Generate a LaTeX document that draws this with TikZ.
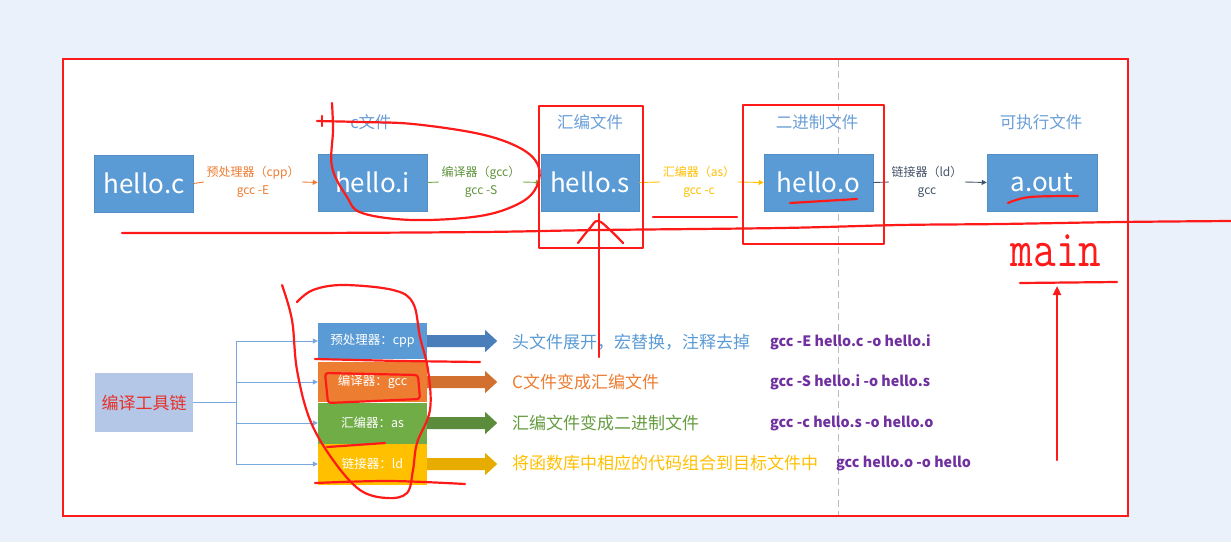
\documentclass[tikz,border=0pt]{standalone}
\usepackage{fontspec}
\setmainfont{Noto Sans CJK SC}
\usetikzlibrary{arrows.meta}
\definecolor{bgblue}{HTML}{EBF1FA}
\definecolor{boxblue}{HTML}{5B9BD5}
\definecolor{lblblue}{HTML}{6A9FD8}
\definecolor{corange}{HTML}{ED7D31}
\definecolor{cgreen}{HTML}{70AD47}
\definecolor{cgold}{HTML}{FFC000}
\definecolor{cslate}{HTML}{44546A}
\definecolor{cpurple}{HTML}{7030A0}
\definecolor{annred}{HTML}{FF1A1A}
\definecolor{tcbox}{HTML}{B4C7E7}
\definecolor{tcred}{HTML}{E8302A}
\definecolor{connblue}{HTML}{7AA7DC}
\definecolor{ablue}{HTML}{4A7EBB}
\definecolor{aorange}{HTML}{D2702F}
\definecolor{agreen}{HTML}{5A8C3C}
\definecolor{agold}{HTML}{E6AC00}
\definecolor{dashgray}{HTML}{BDBDBD}
\begin{document}
\begin{tikzpicture}[x=1pt,y=-1pt,
  filebox/.style={fill=boxblue, draw=boxblue!92!black, line width=0.5pt, text=white,
    font=\fontsize{26}{30}\selectfont, minimum height=57pt, inner sep=0pt},
  toplabel/.style={text=lblblue, font=\fontsize{16.5}{20}\selectfont, inner sep=0pt},
  elabel/.style={align=center, font=\fontsize{12}{18}\selectfont, inner sep=2.5pt},
  tool/.style={text=white, font=\fontsize{12.5}{15}\selectfont, minimum width=109pt, inner sep=0pt},
  desc/.style={anchor=west, font=\fontsize{17}{20}\selectfont, inner sep=0pt},
  cmd/.style={anchor=west, text=cpurple, font=\fontsize{14.3}{18}\bfseries\selectfont, inner sep=0pt},
  conn/.style={draw=connblue, line width=0.8pt},
  tip/.style={-{Triangle[length=5pt,width=5pt]}},
  redline/.style={draw=annred, line width=2.2pt, line cap=round, line join=round}
]
\useasboundingbox (0,0) rectangle (1231,542);
\fill[bgblue] (0,0) rectangle (1231,542);
% frame
\filldraw[fill=white, draw=annred, line width=2pt] (63,59) rectangle (1128,516);
\draw[dashgray, line width=1pt, dash pattern=on 7pt off 4pt] (838,60) -- (838,515);

% top row
\node[filebox, minimum width=99pt] (c) at (144,183.5) {hello.c};
\node[filebox, minimum width=109pt] (i) at (372.5,182.5) {hello.i};
\node[filebox, minimum width=98pt] (s) at (590,182.5) {hello.s};
\node[filebox, minimum width=109pt] (o) at (818.5,182.5) {hello.o};
\node[filebox, minimum width=110pt] (out) at (1042,182.5) {a.out};

\node[toplabel] (ti) at (371,122) {c文件};
\node[toplabel] (ts) at (590,122) {汇编文件};
\node[toplabel] (to) at (817,122) {二进制文件};
\node[toplabel] (tout) at (1041,122) {可执行文件};

\node[elabel, text=corange] (l1) at (253,182) {预处理器（cpp）\\gcc -E};
\node[elabel, text=cgreen!85!black] (l2) at (481,182) {编译器（gcc）\\gcc -S};
\node[elabel, text=cgold] (l3) at (699,182) {汇编器（as）\\gcc -c};
\node[elabel, text=cslate] (l4) at (927,182) {链接器（ld）\\gcc};

\draw[corange, line width=0.9pt] (c.east) -- (l1.west);
\draw[corange, line width=0.9pt, tip] (l1.east) -- (i.west);
\draw[cgreen, line width=0.9pt] (i.east) -- (l2.west);
\draw[cgreen, line width=0.9pt, tip] (l2.east) -- (s.west);
\draw[cgold, line width=0.9pt] (s.east) -- (l3.west);
\draw[cgold, line width=0.9pt, tip] (l3.east) -- (o.west);
\draw[cslate, line width=0.9pt] (o.east) -- (l4.west);
\draw[cslate, line width=0.9pt, tip] (l4.east) -- (out.west);

% bottom: tool chain
\node[fill=tcbox, minimum width=98pt, minimum height=59pt, inner sep=0pt, text=tcred,
  font=\fontsize{17}{20}\selectfont] (tc) at (144,402.5) {编译工具链};
\node[tool, fill=boxblue, minimum height=36pt] (p) at (372.5,341) {预处理器：cpp};
\node[tool, fill=corange, minimum height=40pt] (g) at (372.5,382) {编译器：gcc};
\node[tool, fill=cgreen, minimum height=41pt] (a) at (372.5,423) {汇编器：as};
\node[tool, fill=cgold, minimum height=41pt] (l) at (372.5,464) {链接器：ld};

\coordinate (jn) at (236,402.5);
\draw[conn] (tc.east) -- (jn);
\draw[conn] (236,341) -- (236,464);
\draw[conn, tip] (jn |- p.west) -- (p.west);
\draw[conn, tip] (jn |- g.west) -- (g.west);
\draw[conn, tip] (jn |- a.west) -- (a.west);
\draw[conn, tip] (jn |- l.west) -- (l.west);

\foreach \n/\col in {p/ablue, g/aorange, a/agreen, l/agold}{
  \fill[\col] ([yshift=6pt]\n.east) -- ++(58,0) -- ++(0,-5) -- ++(12,11) -- ++(-12,11) -- ++(0,-5) -- ++(-58,0) -- cycle;
}

\node[desc, text=boxblue] (d1) at (512,342) {头文件展开，宏替换，注释去掉};
\node[desc, text=corange] (d2) at (512,382) {C文件变成汇编文件};
\node[desc, text=cgreen!90!black] (d3) at (512,423) {汇编文件变成二进制文件};
\node[desc, text=cgold] (d4) at (512,463) {将函数库中相应的代码组合到目标文件中};

\node[cmd] (m1) at (770,342) {gcc -E hello.c -o hello.i};
\node[cmd] (m2) at (770,382) {gcc -S hello.i -o hello.s};
\node[cmd] (m3) at (770,423) {gcc -c hello.s -o hello.o};
\node[cmd] (m4) at (836,463) {gcc hello.o -o hello};

% red annotations
\draw[redline] (539,106) rectangle (643,248);
\draw[redline] (743,105) rectangle (884,244);
\draw[redline] plot[smooth, tension=0.6] coordinates {(122,233) (300,233) (480,232) (600,230) (780,228) (900,225) (1000,224) (1120,222) (1231,221)};
\draw[redline] plot[smooth, tension=0.6] coordinates {(317,121) (360,122) (413,124) (480,134) (520,148) (538,165) (537,186) (520,203) (480,216) (413,220) (362,213) (347,197) (332,167) (333,130) (332,103)};
\draw[redline] (322,116) -- (322,126);
\draw[redline] (599,357) -- (599,214);
\draw[redline] plot[smooth, tension=0.7] coordinates {(578,243) (590,228) (598,221) (610,230) (623,243)};
\draw[redline] (653,217) -- (737,217);
\draw[redline] (790,203) -- (857,199);
\draw[redline] plot[smooth, tension=0.6] coordinates {(1008,203) (1030,197) (1078,196)};
\node[text=annred, inner sep=0pt, font=\fontsize{44}{46}\ttfamily] (mn) at (1056,251) {\scalebox{1}[1.2]{main}};
\draw[redline] (1020,283) -- (1117,282);
\coordinate (ua) at (1057,460);
\coordinate (ub) at (1057,286);
\draw[redline, -{Triangle[length=9pt,width=8pt]}] (ua) -- (ub);

\draw[redline] plot[smooth, tension=0.6] coordinates {(282,285) (292,320) (297,370) (310,420) (333,460) (360,490) (387,498) (407,493) (413,470) (417,443) (430,410) (428,370) (420,337) (413,303) (393,290) (343,285) (313,290) (297,302)};
\draw[redline, rounded corners=3pt] (325,373) -- (418,375) -- (420,399) -- (328,403) -- cycle;
\draw[redline] (315,359) -- (400,361) -- (480,362);
\draw[redline] (327,447) -- (385,443);
\draw[redline] plot[smooth, tension=0.6] coordinates {(315,483) (390,481) (465,484)};
\end{tikzpicture}
\end{document}
